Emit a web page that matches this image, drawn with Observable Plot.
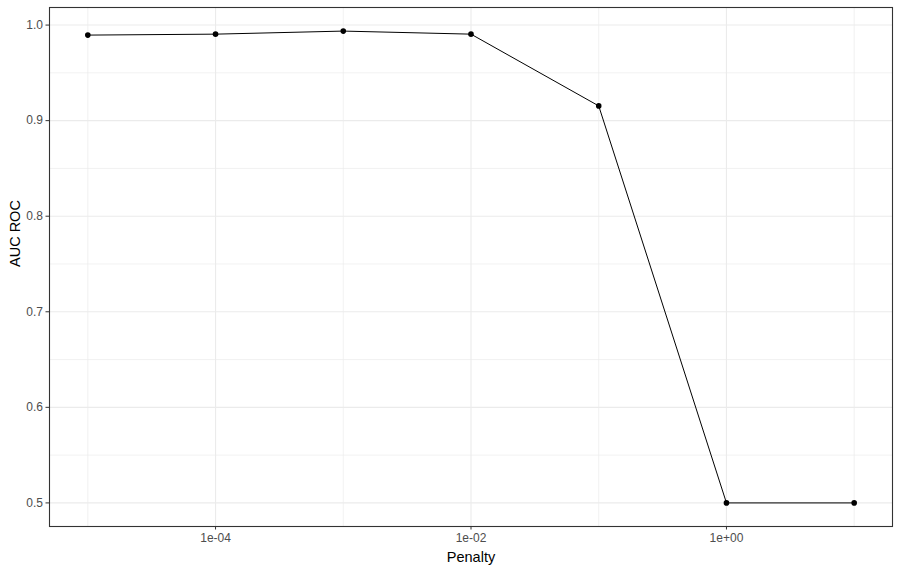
<!DOCTYPE html>
<html><head><meta charset="utf-8">
<script src="https://cdn.jsdelivr.net/npm/d3@7"></script>
<script src="https://cdn.jsdelivr.net/npm/@observablehq/plot@0.6"></script>
<style>
body{margin:0;background:#fff;}
svg{font-family:"Liberation Sans",Arial,sans-serif;}
</style></head>
<body><div id="chart"></div>
<script>
const penalty = [1e-5, 1e-4, 1e-3, 1e-2, 1e-1, 1, 10];
const auc = [0.9895, 0.9905, 0.9937, 0.9905, 0.9154, 0.5, 0.5];
const xTicks = [1e-4, 1e-2, 1];
const xTickLabels = ["1e-04", "1e-02", "1e+00"];
const xMinor = [1e-5, 1e-3, 1e-1, 10];
const yTicks = [0.5, 0.6, 0.7, 0.8, 0.9, 1.0];
const yTickLabels = ["0.5", "0.6", "0.7", "0.8", "0.9", "1.0"];
const yMinor = [0.55, 0.65, 0.75, 0.85, 0.95];

const data = penalty.map((p, i) => ({penalty: p, auc: auc[i]}));
const lo = Math.log10(d3.min(penalty)), hi = Math.log10(d3.max(penalty));
const xpad = (hi - lo) * 0.05;
const ylo = d3.min(auc), yhi = d3.max(auc), ypad = (yhi - ylo) * 0.05;
const xfmt = (d) => xTickLabels[xTicks.findIndex(t => Math.abs(t - d) / t < 1e-9)];
const yfmt = (d) => yTickLabels[yTicks.findIndex(t => Math.abs(t - d) < 1e-9)];

const plot = Plot.plot({
  width: 900, height: 572,
  marginLeft: 49, marginRight: 8, marginTop: 7, marginBottom: 46,
  x: {type: "log", domain: [Math.pow(10, lo - xpad), Math.pow(10, hi + xpad)]},
  y: {domain: [ylo - ypad, yhi + ypad]},
  style: {fontSize: "12px", color: "#4D4D4D"},
  marks: [
    Plot.ruleX(xMinor, {stroke: "#EBEBEB", strokeWidth: 0.7}),
    Plot.ruleY(yMinor, {stroke: "#EBEBEB", strokeWidth: 0.7}),
    Plot.ruleX(xTicks, {stroke: "#EBEBEB", strokeWidth: 1.1}),
    Plot.ruleY(yTicks, {stroke: "#EBEBEB", strokeWidth: 1.1}),
    Plot.line(data, {x: "penalty", y: "auc", stroke: "black", strokeWidth: 1}),
    Plot.dot(data, {x: "penalty", y: "auc", fill: "black", r: 2.8}),
    Plot.frame({stroke: "#333333", strokeWidth: 1.1}),
    Plot.axisX({ticks: xTicks, tickFormat: xfmt, tickSize: 3.5, tickPadding: 3, stroke: "#333333", fill: "#4D4D4D", fontSize: 12, label: null}),
    Plot.axisY({ticks: yTicks, tickFormat: yfmt, tickSize: 3.5, tickPadding: 3, stroke: "#333333", fill: "#4D4D4D", fontSize: 12, label: null}),
    Plot.text(["Penalty"], {frameAnchor: "bottom", dy: 35, fontSize: 14.5, fill: "black"}),
    Plot.text(["AUC ROC"], {frameAnchor: "left", dx: -34, rotate: -90, fontSize: 14.5, fill: "black"})
  ]
});
document.getElementById("chart").appendChild(plot);
</script></body></html>
